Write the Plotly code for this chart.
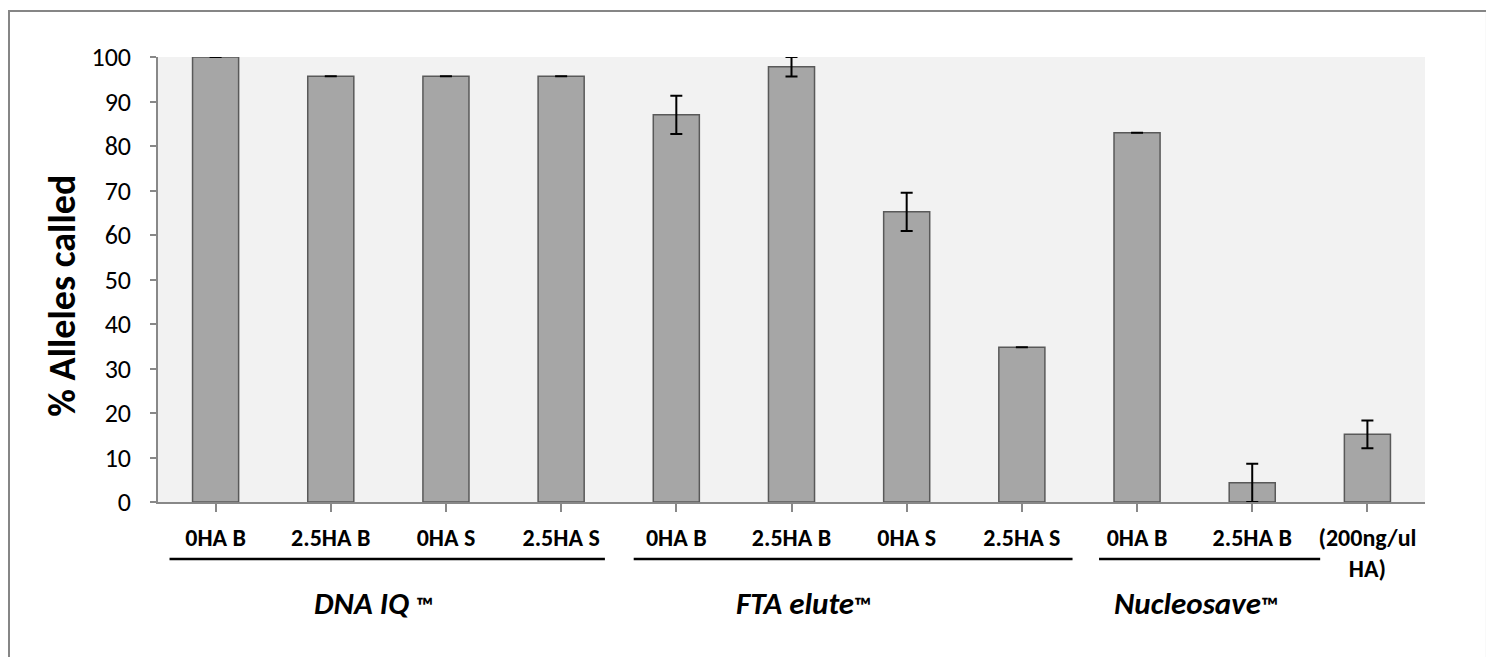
import plotly.graph_objects as go

categories = ["0HA B", "2.5HA B", "0HA S", "2.5HA S",
              "0HA B ", "2.5HA B ", "0HA S ", "2.5HA S ",
              "0HA B  ", "2.5HA B  ", "(200ng/ul<br>HA)"]
values = [100, 95.7, 95.7, 95.7, 87.0, 97.8, 65.2, 34.8, 83.0, 4.3, 15.2]
errors = [0, 0, 0, 0, 4.3, 2.2, 4.3, 0, 0, 4.3, 3.1]
tick_labels = [c.strip() if "<br>" not in c else c for c in categories]

TM = "<span style='font-size:24px;font-style:normal'>™</span>"
groups = ["DNA IQ " + TM, "FTA elute" + TM, "Nucleosave" + TM]
group_lines = [(-0.40, 3.38), (3.63, 7.44), (7.67, 9.59)]
group_label_x = [1.375, 5.1, 8.51]

FONT = "Carlito, Calibri, Lato, sans-serif"

fig = go.Figure()
fig.add_trace(go.Bar(
    x=list(range(len(categories))), y=values,
    marker=dict(color="#a6a6a6", line=dict(color="#595959", width=1.5)),
    error_y=dict(type="data", array=errors, visible=True,
                 color="black", thickness=2, width=6),
    showlegend=False,
))

shapes = []
for (a, b) in group_lines:
    shapes.append(dict(type="line", xref="x", yref="paper", x0=a, x1=b,
                       y0=-0.128, y1=-0.128, line=dict(color="black", width=2.5)))
shapes.append(dict(type="rect", xref="paper", yref="paper",
                   x0=-0.1176, x1=1.0489, y0=-0.40, y1=1.1034,
                   line=dict(color="#868686", width=2), layer="below"))

annotations = []
for g, gx in zip(groups, group_label_x):
    annotations.append(dict(text="<b><i>" + g + "</i></b>", x=gx, xref="x",
                            y=-0.227, yref="paper", showarrow=False,
                            font=dict(family=FONT, size=31, color="black"),
                            xanchor="center", yanchor="middle"))
annotations.append(dict(text="<b>% Alleles called</b>", textangle=-90,
                        x=-0.076, xref="paper", y=0.463, yref="paper",
                        showarrow=False, xanchor="center", yanchor="middle",
                        font=dict(family=FONT, size=38, color="black")))

fig.update_layout(
    width=1486, height=649,
    margin=dict(l=150, r=69, t=49, b=155),
    paper_bgcolor="white", plot_bgcolor="#f2f2f2",
    bargap=0.6,
    font=dict(family=FONT, color="black"),
    shapes=shapes, annotations=annotations,
    xaxis=dict(
        tickmode="array", tickvals=list(range(len(categories))),
        ticktext=["<b>" + t + "</b>" for t in tick_labels],
        range=[-0.5, len(categories) - 0.5],
        showline=True, linecolor="#888888", linewidth=1.5,
        ticks="outside", ticklen=8, tickcolor="#888888", tickwidth=1.5,
        tickson="boundaries", showgrid=False, zeroline=False,
        tickfont=dict(family=FONT, size=24, color="black"),
        ticklabelstandoff=5,
    ),
    yaxis=dict(
        range=[0, 100], tickvals=list(range(0, 101, 10)),
        showline=True, linecolor="#888888", linewidth=1.5,
        ticks="outside", ticklen=6, tickcolor="#888888", tickwidth=1.5,
        showgrid=False, zeroline=False,
        tickfont=dict(family=FONT, size=26, color="black"),
        ticklabelstandoff=14,
    ),
)

fig.write_html("out.html")
